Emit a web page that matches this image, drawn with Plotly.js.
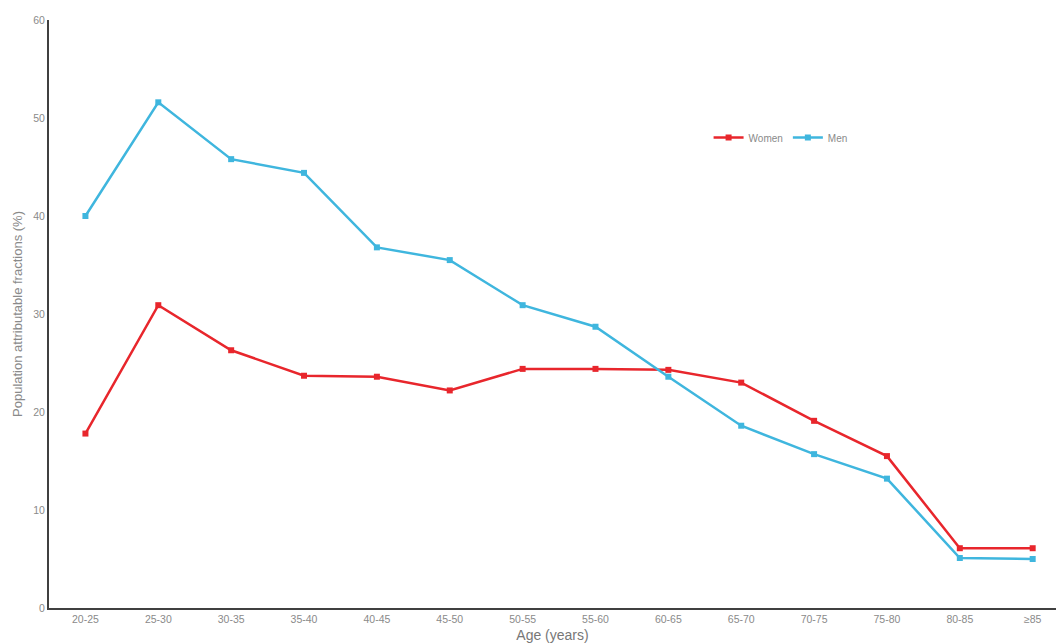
<!DOCTYPE html>
<html>
<head>
<meta charset="utf-8">
<script src="https://cdn.plot.ly/plotly-3.0.1.min.js"></script>
<style>html,body{margin:0;padding:0;background:#fff;}#chart{width:1056px;height:643px;}</style>
</head>
<body>
<div id="chart"></div>
<script>
const ageGroups = ["20-25","25-30","30-35","35-40","40-45","45-50","50-55","55-60","60-65","65-70","70-75","75-80","80-85","≥85"];
const women = [17.8, 30.9, 26.3, 23.7, 23.6, 22.2, 24.4, 24.4, 24.3, 23.0, 19.1, 15.5, 6.1, 6.1];
const men = [40.0, 51.6, 45.8, 44.4, 36.8, 35.5, 30.9, 28.7, 23.6, 18.6, 15.7, 13.2, 5.1, 5.0];
const yTicks = [0, 10, 20, 30, 40, 50, 60];

const traces = [
  {x: ageGroups, y: women, name: "Women", type: "scatter", mode: "lines+markers",
   line: {color: "#e8262c", width: 2.5}, marker: {symbol: "square", size: 6, color: "#e8262c"}},
  {x: ageGroups, y: men, name: "Men", type: "scatter", mode: "lines+markers",
   line: {color: "#3fb6de", width: 2.5}, marker: {symbol: "square", size: 6, color: "#3fb6de"}}
];

const layout = {
  width: 1056, height: 643,
  margin: {l: 49, r: 0, t: 20, b: 35},
  paper_bgcolor: "#fff", plot_bgcolor: "#fff",
  font: {family: "Liberation Sans, Arial, sans-serif", color: "#8a8a8a"},
  showlegend: true,
  legend: {orientation: "h", x: 0.655, y: 0.80, xanchor: "left", yanchor: "middle",
           font: {size: 10, color: "#8a8a8a"}, itemwidth: 30, bgcolor: "rgba(0,0,0,0)"},
  xaxis: {
    type: "category", range: [-0.5, 13.32], showgrid: false, zeroline: false,
    showline: true, linecolor: "#404040", linewidth: 2, ticks: "",
    tickfont: {size: 10.5, color: "#8a8a8a"},
    title: {text: "Age (years)", font: {size: 14, color: "#777"}, standoff: 8},
    automargin: false
  },
  yaxis: {
    range: [0, 60], tickvals: yTicks, showgrid: false, zeroline: false,
    showline: true, linecolor: "#404040", linewidth: 2, ticks: "",
    tickfont: {size: 10.5, color: "#8a8a8a"},
    title: {text: "Population attributable fractions (%)", font: {size: 13, color: "#8a8a8a"}, standoff: 8},
    automargin: false
  }
};

Plotly.newPlot("chart", traces, layout, {displayModeBar: false, responsive: false});
</script>
</body>
</html>
